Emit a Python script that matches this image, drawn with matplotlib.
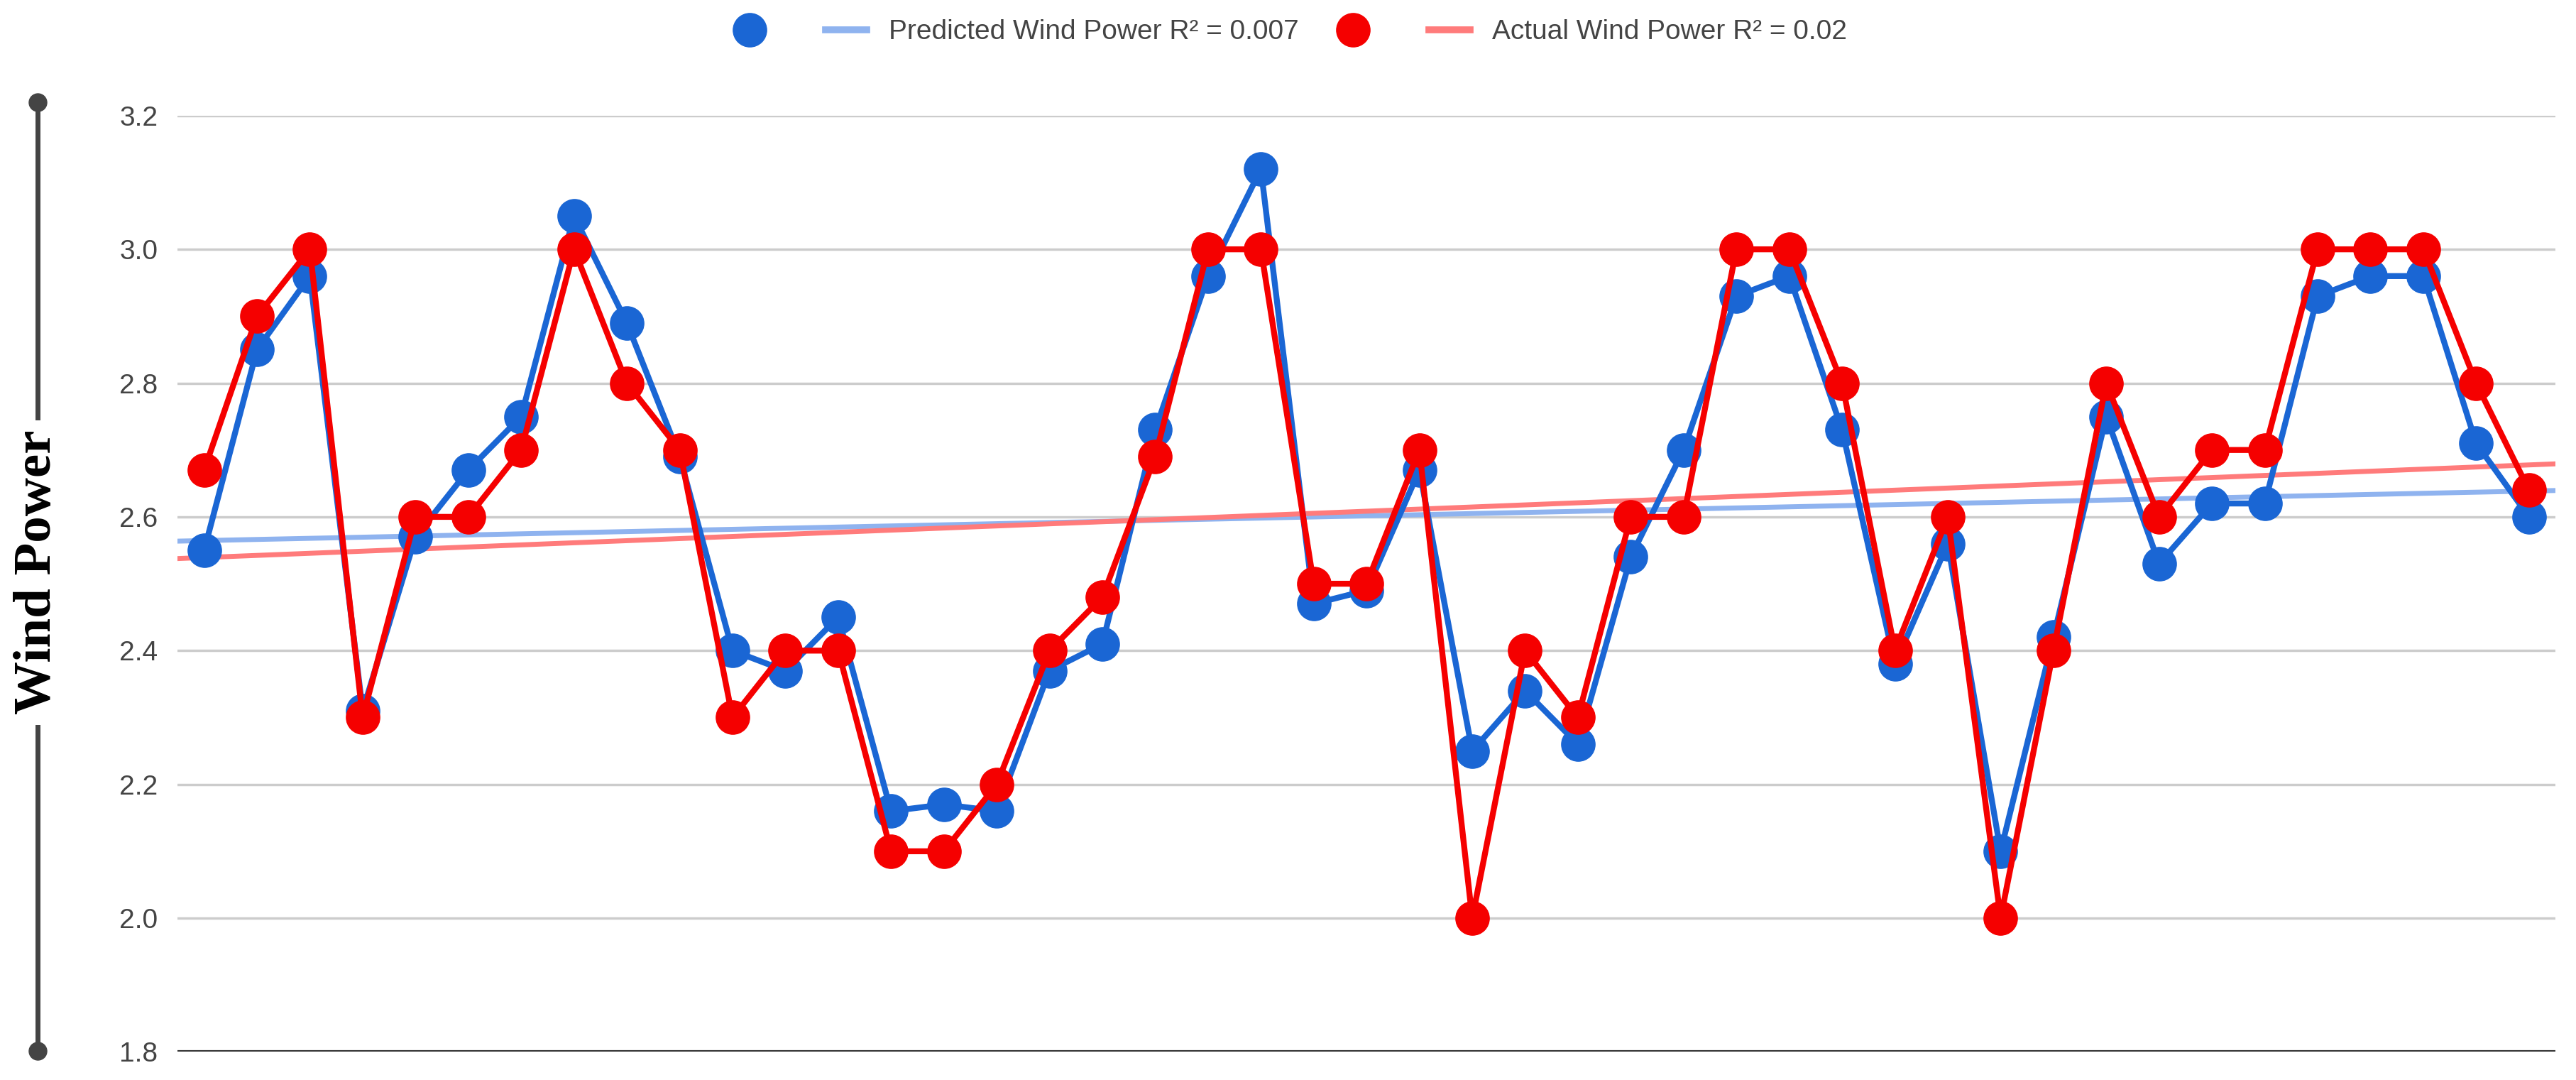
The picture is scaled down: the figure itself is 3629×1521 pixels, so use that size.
import matplotlib.pyplot as plt
from matplotlib.lines import Line2D
import numpy as np

predicted = [2.55, 2.85, 2.96, 2.31, 2.57, 2.67, 2.75, 3.05, 2.89, 2.69, 2.40, 2.37, 2.45, 2.16, 2.17,
             2.16, 2.37, 2.41, 2.73, 2.96, 3.12, 2.47, 2.49, 2.67, 2.25, 2.34, 2.26, 2.54, 2.70, 2.93,
             2.96, 2.73, 2.38, 2.56, 2.10, 2.42, 2.75, 2.53, 2.62, 2.62, 2.93, 2.96, 2.96, 2.71, 2.60]
actual = [2.67, 2.90, 3.00, 2.30, 2.60, 2.60, 2.70, 3.00, 2.80, 2.70, 2.30, 2.40, 2.40, 2.10, 2.10,
          2.20, 2.40, 2.48, 2.69, 3.00, 3.00, 2.50, 2.50, 2.70, 2.00, 2.40, 2.30, 2.60, 2.60, 3.00,
          3.00, 2.80, 2.40, 2.60, 2.00, 2.40, 2.80, 2.60, 2.70, 2.70, 3.00, 3.00, 3.00, 2.80, 2.64]
labels = ["Predicted Wind Power R² = 0.007", "Actual Wind Power R² = 0.02"]
yticks = [1.8, 2.0, 2.2, 2.4, 2.6, 2.8, 3.0, 3.2]

blue, red = '#1a66d4', '#f50000'
blue_t, red_t = '#8fb3ef', '#ff7b7b'

plt.rcParams['font.family'] = ['Liberation Sans', 'DejaVu Sans']

fig = plt.figure(figsize=(36.29, 15.21), dpi=100)
ax = fig.add_axes([0.069, 0.026, 0.923, 0.867])
x = np.arange(len(predicted))

for y, c, tc in [(predicted, blue, blue_t), (actual, red, red_t)]:
    k, b = np.polyfit(x, y, 1)
    xt = np.array([-0.5, len(x) - 0.5])
    ax.plot(xt, k * xt + b, color=tc, lw=5, zorder=2)
for y, c in [(predicted, blue), (actual, red)]:
    ax.plot(x, y, color=c, lw=6, marker='o', ms=34, zorder=3)

ax.set_xlim(-0.5, len(x) - 0.5)
ax.set_ylim(1.8, 3.2)
ax.set_yticks(yticks)
ax.set_yticklabels([f"{v:.1f}" for v in yticks], fontsize=28, color='#444444')
ax.set_xticks([])
ax.grid(axis='y', color='#cccccc', lw=2.5)
ax.axhline(1.8, color='#333333', lw=3)
for s in ax.spines.values():
    s.set_visible(False)
ax.tick_params(axis='y', length=0, pad=20)

# decorative axis title bar
fig.add_artist(Line2D([0.0145, 0.0145], [0.027, 0.905], color='#444444', lw=5))
fig.add_artist(Line2D([0.0145, 0.0145], [0.027, 0.905], color='#444444', lw=0, marker='o', ms=18))
fig.text(0.0145, 0.47, "Wind Power", rotation=90, ha='center', va='center', fontsize=54,
         fontweight='bold', family='Liberation Serif',
         bbox=dict(facecolor='white', edgecolor='none', pad=10))

handles = [Line2D([], [], color=blue, marker='o', ms=34, lw=0),
           Line2D([], [], color=blue_t, lw=7),
           Line2D([], [], color=red, marker='o', ms=34, lw=0),
           Line2D([], [], color=red_t, lw=7)]
fig.legend(handles, ["", labels[0], "", labels[1]], loc='upper center', ncol=4, frameon=False,
           bbox_to_anchor=(0.5, 1.005), fontsize=28, handlelength=1.5, columnspacing=1.2,
           handletextpad=0.8, labelcolor='#444444')

fig.savefig('out.png')
